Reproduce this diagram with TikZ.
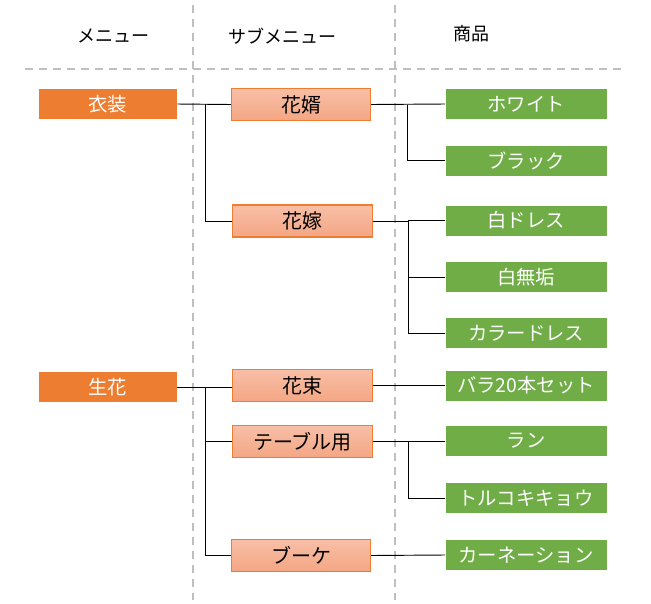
\documentclass[tikz,border=0pt]{standalone}
\usepackage{fontspec}
\setmainfont{Noto Sans CJK JP}
\usetikzlibrary{calc}
\definecolor{menuorange}{HTML}{ED7D31}
\definecolor{subtop}{HTML}{F8BFA7}
\definecolor{subbot}{HTML}{F4A684}
\definecolor{itemgreen}{HTML}{70AD47}
\definecolor{guide}{HTML}{BFBFBF}
\tikzset{
  menubox/.style={fill=menuorange, text=white, minimum width=103.5pt, minimum height=22.5pt, inner sep=0pt, font=\fontsize{14.5}{16}\selectfont},
  subbox/.style={draw=menuorange, line width=0.8pt, top color=subtop, bottom color=subbot, text=black, minimum width=104.5pt, minimum height=24pt, inner sep=0pt, font=\fontsize{15}{16}\selectfont},
  itembox/.style={fill=itemgreen, text=white, minimum width=120.75pt, minimum height=22.5pt, inner sep=0pt, font=\fontsize{14.5}{16}\selectfont},
  header/.style={text=black, font=\fontsize{13.5}{16}\selectfont},
  guideline/.style={draw=guide, line width=1.4pt, dash pattern=on 6pt off 4.5pt},
  conn/.style={draw=black, line width=0.7pt}
}
\begin{document}
\begin{tikzpicture}[x=0.75pt,y=-0.75pt]
\useasboundingbox (0,0) rectangle (651,604);
% guides
\draw[guideline] (193,5) -- (193,600);
\draw[guideline] (395,5) -- (395,600);
\draw[guideline] (25,69) -- (626,69);
% headers
\node[header] (h1) at (113,36) {メニュー};
\node[header] (h2) at (282,36) {サブメニュー};
\node[header] (h3) at (471,34) {商品};
% menu
\node[menubox] (ishou) at (108,104) {衣装};
\node[menubox] (seika) at (108,387) {生花};
% submenu
\node[subbox] (hanamuko) at (301,104.5) {花婿};
\node[subbox] (hanayome) at (302.5,221) {花嫁};
\node[subbox] (hanataba) at (302.5,385.5) {花束};
\node[subbox] (table) at (302.5,441.5) {テーブル用};
\node[subbox] (bouquet) at (301,555.5) {ブーケ};
% items
\node[itembox] (white) at (526,104) {ホワイト};
\node[itembox] (black) at (526,160.5) {ブラック};
\node[itembox] (sdress) at (526,220.5) {白ドレス};
\node[itembox] (smuku) at (526,277) {白無垢};
\node[itembox] (cdress) at (526,333) {カラードレス};
\node[itembox] (bara) at (526,385.5) {バラ20本セット};
\node[itembox] (ran) at (526,441) {ラン};
\node[itembox] (toruko) at (526,498) {トルコキキョウ};
\node[itembox] (carnation) at (526,555) {カーネーション};
% connectors menu -> submenu
\draw[conn] (ishou.east) -- (hanamuko.west);
\draw[conn] ($(ishou.east)+(28,0)$) |- (hanayome.west);
\draw[conn] (seika.east) -- (hanataba.west |- seika.east);
\draw[conn] ($(seika.east)+(28,0)$) |- (table.west);
\draw[conn] ($(seika.east)+(28,0)$) |- (bouquet.west);
% submenu -> items
\draw[conn] (hanamuko.east) -- (white.west);
\draw[conn] ($(hanamuko.east)+(36,0)$) |- (black.west);
\draw[conn] (hanayome.east) -- ($(hanayome.east)+(36,0)$) |- (sdress.west);
\draw[conn] ($(hanayome.east)+(36,0)$) |- (smuku.west);
\draw[conn] ($(hanayome.east)+(36,0)$) |- (cdress.west);
\draw[conn] (hanataba.east) -- (bara.west);
\draw[conn] (table.east) -- ($(table.east)+(36,0)$) |- (ran.west);
\draw[conn] ($(table.east)+(36,0)$) |- (toruko.west);
\draw[conn] (bouquet.east) -- (carnation.west);
\end{tikzpicture}
\end{document}
